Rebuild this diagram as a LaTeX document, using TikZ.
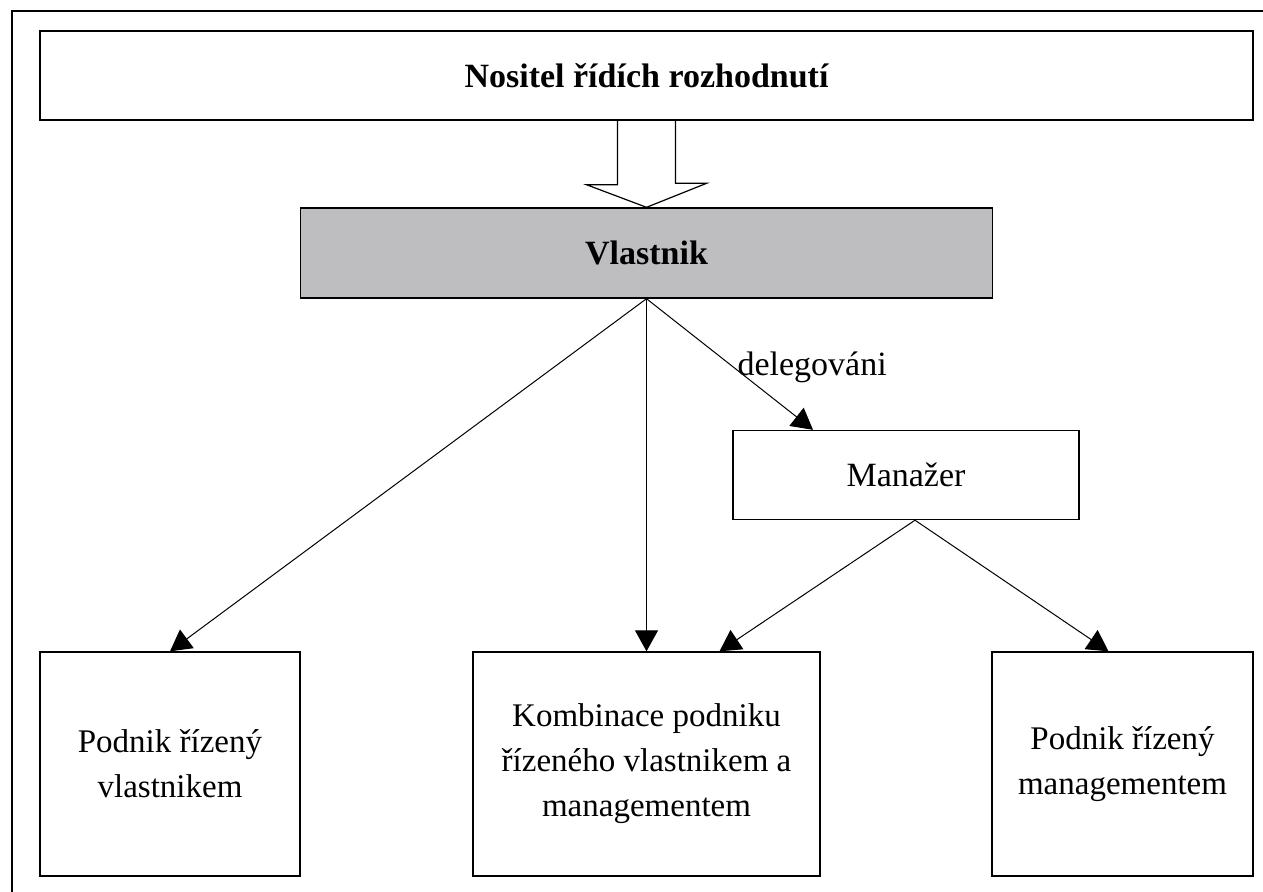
\documentclass[tikz,border=0pt]{standalone}
\usepackage{fontspec}
\setmainfont{Liberation Serif}
\usetikzlibrary{arrows.meta}
\definecolor{ownergray}{RGB}{190,190,193}
\tikzset{
  box/.style={draw, line width=0.7pt, inner sep=0pt, align=center, font=\fontsize{16.5}{22.5}\selectfont},
  conn/.style={line width=0.5pt, -{Triangle[length=10.5pt,width=11.5pt]}},
  hollow/.style={line width=0.6pt, fill=white},
}
\begin{document}
\begin{tikzpicture}[x=0.5pt,y=-0.5pt]
  \pgfdeclarelayer{bg}    % block arrow goes under the boxes
  \pgfsetlayers{bg,main}
  \useasboundingbox (0,0) rectangle (1263,891);
  \def\bottomY{764}   % centre line of the bottom boxes
  \def\bottomH{112pt}
  % outer frame (runs off the page on the right and below)
  \draw[line width=0.7pt] (12,900) -- (12,11) -- (1275,11);
  \node[box, minimum width=606.5pt, minimum height=44.5pt, font=\fontsize{17}{20}\selectfont\bfseries] (nositel) at (646.5,75.5) {Nositel řídích rozhodnutí};
  \node[box, fill=ownergray, minimum width=346pt, minimum height=45pt, font=\fontsize{17}{20}\selectfont\bfseries] (vlastnik) at (646.5,253) {Vlastnik};
  \node[box, minimum width=173pt, minimum height=44.5pt, font=\fontsize{17}{20}\selectfont] (manazer) at (906,475) {Manažer};
  \foreach \name/\X/\W/\txt in {links/170/130/{Podnik řízený\\vlastnikem}, kombinace/646.5/173.5/{Kombinace podniku\\řízeného vlastnikem a\\managementem}, management/1122.5/130.5/{Podnik řízený\\managementem}}
      {
      \node[box, minimum width=\W pt, minimum height=\bottomH] (\name) at (\X,\bottomY) {\txt};
      }
  % hollow block arrow
  \begin{pgfonlayer}{bg}
      \draw[hollow] (nositel.south) ++(-29,0) -- ++(0,64) -- ++(-31,0) -- (vlastnik.north) -- ++(60,-24) -- ++(-31,0) -- ++(0,-64);
  \end{pgfonlayer}
  \draw[conn] (vlastnik.south) -- (links.north);
  \draw[conn] (vlastnik.south) -- (kombinace.north);
  \draw[conn] (vlastnik.south) -- node[pos=0.52, anchor=west, inner sep=2pt, font=\fontsize{17}{20}\selectfont] (deleg) {delegováni} ([xshift=-46.5pt]manazer.north);
  \draw[conn] ([xshift=4.5pt]manazer.south) -- ([xshift=36.5pt]kombinace.north);
  \draw[conn] ([xshift=4.5pt]manazer.south) -- ([xshift=-7pt]management.north);
\end{tikzpicture}
\end{document}
